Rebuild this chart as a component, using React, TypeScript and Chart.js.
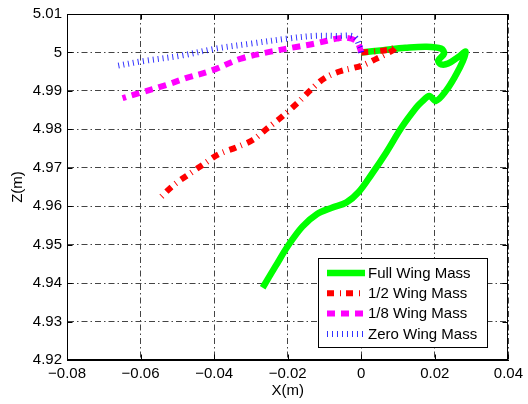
import { useEffect, useRef } from "react";
import { Chart, registerables } from "chart.js";
Chart.register(...registerables);

const xTicks = [-0.08, -0.06, -0.04, -0.02, 0, 0.02, 0.04];
const zTicks = [4.92, 4.93, 4.94, 4.95, 4.96, 4.97, 4.98, 4.99, 5.0, 5.01];

const seriesLabels = ["Full Wing Mass", "1/2 Wing Mass", "1/8 Wing Mass", "Zero Wing Mass"];

const fullX = [0, 0.006, 0.012, 0.0177, 0.0217, 0.0225, 0.0209, 0.0217, 0.0236, 0.0265, 0.0284, 0.0276, 0.0257, 0.023, 0.0203, 0.0185, 0.0165, 0.0149, 0.0109, 0.0068, 0.0028, -0.0007, -0.004, -0.008, -0.012, -0.016, -0.02, -0.0233, -0.0268];
const fullZ = [5.0, 5.0006, 5.0012, 5.0015, 5.001, 4.9997, 4.9979, 4.9969, 4.9971, 4.9989, 5.0002, 4.9977, 4.9941, 4.99, 4.9874, 4.9887, 4.9872, 4.9856, 4.9804, 4.974, 4.9683, 4.9637, 4.961, 4.9596, 4.958, 4.9547, 4.9496, 4.9444, 4.9388];

const halfX = [0, 0.004, 0.008, 0.0095, 0.0085, 0.0042, 0.0002, -0.0057, -0.01, -0.0138, -0.0173, -0.0219, -0.0254, -0.0294, -0.034, -0.0388, -0.0429, -0.0469, -0.051, -0.055];
const halfZ = [5.0, 5.0003, 5.0008, 5.0015, 5.0005, 4.9984, 4.9966, 4.9951, 4.9933, 4.9902, 4.9869, 4.983, 4.9804, 4.9773, 4.9753, 4.9735, 4.9709, 4.9683, 4.9655, 4.9619];

const eighthX = [0, -0.0012, -0.0039, -0.0066, -0.0127, -0.0173, -0.0246, -0.0327, -0.0407, -0.0477, -0.0531, -0.0604, -0.0649];
const eighthZ = [5.0, 5.0028, 5.0038, 5.0036, 5.0023, 5.0015, 5.0002, 4.9984, 4.9953, 4.9933, 4.9915, 4.9894, 4.9881];

const zeroX = [0, -0.0004, -0.002, -0.0066, -0.0127, -0.02, -0.03, -0.0396, -0.0488, -0.0596, -0.0671];
const zeroZ = [5.0, 5.0015, 5.0041, 5.0043, 5.0043, 5.0036, 5.0023, 5.001, 4.9992, 4.9977, 4.9964];

const FONT = '"Liberation Sans", Arial, sans-serif';

const pts = (xs: number[], zs: number[]) => xs.map((x, i) => ({ x, y: zs[i] }));

const fmtX = (v: number) => (Math.abs(v) < 1e-9 ? "0" : (v < 0 ? "\u2212" : "") + Math.abs(v).toFixed(2));
const fmtZ = (v: number) => (Math.abs(v - 5) < 1e-9 ? "5" : v.toFixed(2));

export default function App() {
  const ref = useRef<HTMLCanvasElement | null>(null);
  useEffect(() => {
    document.body.style.margin = "0";
    const canvas = ref.current!;
    const styles = [
      { color: "rgb(0,255,0)", width: 6.5, dash: [] as number[] },
      { color: "rgb(255,0,0)", width: 6, dash: [7, 6, 1, 5] },
      { color: "rgb(255,0,255)", width: 6, dash: [8, 6] },
      { color: "rgba(0,0,255,0.8)", width: 6, dash: [1, 4] },
    ];
    const data = [pts(fullX, fullZ), pts(halfX, halfZ), pts(eighthX, eighthZ), pts(zeroX, zeroZ)];
    const overlay = {
      id: "overlay",
      afterDraw(chart: any) {
        const { ctx, chartArea: a, scales } = chart;
        ctx.save();
        ctx.setLineDash([]);
        ctx.strokeStyle = "#000";
        ctx.lineWidth = 1;
        const L = Math.round(a.left) + 0.5, R = Math.round(a.right) - 0.5;
        const T = Math.round(a.top) + 0.5, B = Math.round(a.bottom) - 0.5;
        ctx.beginPath();
        for (const v of xTicks) {
          const px = Math.round(scales.x.getPixelForValue(v)) + 0.5;
          ctx.moveTo(px, B); ctx.lineTo(px, B - 5);
          ctx.moveTo(px, T); ctx.lineTo(px, T + 5);
        }
        for (const v of zTicks) {
          const py = Math.round(scales.y.getPixelForValue(v)) + 0.5;
          ctx.moveTo(L, py); ctx.lineTo(L + 5, py);
          ctx.moveTo(R, py); ctx.lineTo(R - 5, py);
        }
        ctx.stroke();
        ctx.strokeRect(L, T, R - L, B - T);
        // legend
        const lx = 318.5, ly = 258.5, lw = 169, lh = 89;
        ctx.fillStyle = "#fff";
        ctx.fillRect(lx, ly, lw, lh);
        ctx.strokeStyle = "#000";
        ctx.strokeRect(lx, ly, lw, lh);
        ctx.font = "15px " + FONT;
        ctx.textBaseline = "middle";
        ctx.textAlign = "left";
        seriesLabels.forEach((lab, i) => {
          const y = 273 + i * 20.3;
          const s = styles[i];
          ctx.save();
          ctx.strokeStyle = s.color;
          ctx.lineWidth = s.width;
          ctx.setLineDash(s.dash);
          ctx.beginPath();
          ctx.moveTo(327, y);
          ctx.lineTo(365, y);
          ctx.stroke();
          ctx.restore();
          ctx.fillStyle = "#000";
          ctx.fillText(lab, 368, y + 0.5);
        });
        ctx.restore();
      },
    };
    const chart = new Chart(canvas, {
      type: "scatter",
      data: {
        datasets: data.map((d, i) => ({
          label: seriesLabels[i],
          data: d,
          showLine: true,
          pointRadius: 0,
          borderColor: styles[i].color,
          backgroundColor: styles[i].color,
          borderWidth: styles[i].width,
          borderDash: styles[i].dash,
          borderCapStyle: "butt",
          tension: 0.35,
          order: 4 - i,
        })),
      },
      options: {
        animation: false,
        responsive: false,
        layout: { padding: { top: 10, right: 15, left: 0, bottom: 0 } },
        plugins: { legend: { display: false }, tooltip: { enabled: false } },
        scales: {
          x: {
            type: "linear",
            min: -0.08,
            max: 0.04,
            afterBuildTicks: (s: any) => { s.ticks = xTicks.map((v) => ({ value: v })); },
            afterFit: (s: any) => { s.height = 44; },
            ticks: { color: "#000", font: { family: FONT, size: 15 }, padding: 5, maxRotation: 0, autoSkip: false, callback: (v: any) => fmtX(Number(v)) },
            grid: { color: "#444", lineWidth: 1, drawTicks: false },
            border: { display: true, color: "#000", dash: [6, 3, 1.5, 3] },
            title: { display: true, text: "X(m)", color: "#000", font: { family: FONT, size: 15 }, padding: { top: 0, bottom: 4 } },
          },
          y: {
            type: "linear",
            min: 4.92,
            max: 5.01,
            afterBuildTicks: (s: any) => { s.ticks = zTicks.map((v) => ({ value: v })); },
            afterFit: (s: any) => { s.width = 67; },
            ticks: { color: "#000", font: { family: FONT, size: 15 }, padding: 5, autoSkip: false, callback: (v: any) => fmtZ(Number(v)) },
            grid: { color: "#444", lineWidth: 1, drawTicks: false },
            border: { display: true, color: "#000", dash: [6, 3, 1.5, 3] },
            title: { display: true, text: "Z(m)", color: "#000", font: { family: FONT, size: 15 }, padding: { top: 9, bottom: 0 } },
          },
        },
      },
      plugins: [overlay],
    } as any);
    return () => chart.destroy();
  }, []);
  return (
    <div style={{ position: "absolute", left: 0, top: 0, width: 528, height: 404, background: "#fff" }}>
      <canvas ref={ref} width={528} height={404} style={{ display: "block", width: 528, height: 404 }} />
    </div>
  );
}
